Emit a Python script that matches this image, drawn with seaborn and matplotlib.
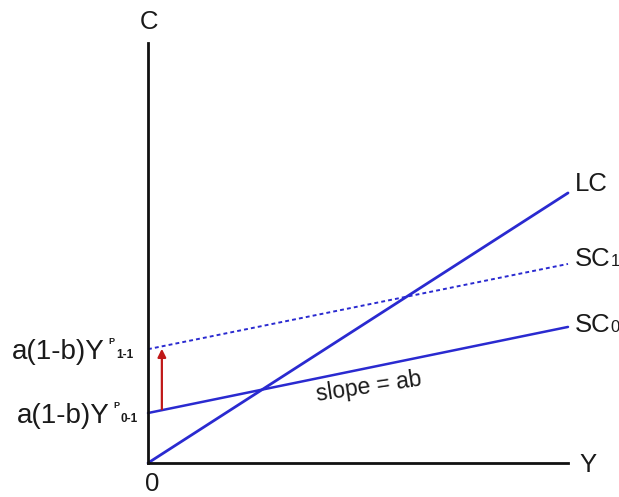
import matplotlib
matplotlib.use("Agg")
import matplotlib.pyplot as plt
import seaborn as sns
import pandas as pd

# ---- data ----
income = [0, 10]            # Y
lc = [0, 6.43]              # long-run consumption
sc1 = [2.71, 4.74]          # short-run consumption (period 1)
sc0 = [1.19, 3.24]          # short-run consumption (period 0)
arrow_x = 0.33
arrow_from = 1.28
arrow_to = 2.72
line_labels = ["LC", "SC", "SC"]
line_subs = ["", "1", "0"]
intercept_labels = ["a(1-b)Y", "a(1-b)Y"]
intercept_subs = ["1-1", "0-1"]
slope_text = "slope = ab"

sns.set_theme(style="white")
plt.rcParams["font.family"] = ["Liberation Sans", "DejaVu Sans"]

fig = plt.figure(figsize=(6.19, 4.97), dpi=100)
ax = fig.add_axes([148 / 619, 34 / 497, 420 / 619, 420 / 497])
ax.set_xlim(0, 10)
ax.set_ylim(0, 10)
ax.patch.set_alpha(0)

blue = "#2a2ad0"
df = pd.DataFrame({"Y": income, "LC": lc, "SC1": sc1, "SC0": sc0})
sns.lineplot(data=df, x="Y", y="LC", ax=ax, color=blue, lw=2.0, clip_on=False)
sns.lineplot(data=df, x="Y", y="SC1", ax=ax, color=blue, lw=1.4,
             linestyle=(0, (2.0, 1.6)), clip_on=False)
sns.lineplot(data=df, x="Y", y="SC0", ax=ax, color=blue, lw=1.8, clip_on=False)

ax.annotate("", xy=(arrow_x, arrow_to), xytext=(arrow_x, arrow_from),
            arrowprops=dict(arrowstyle="-|>", color="#c01818", lw=1.6,
                            mutation_scale=12, shrinkA=0, shrinkB=0))

for s in ["top", "right"]:
    ax.spines[s].set_visible(False)
for s in ["left", "bottom"]:
    ax.spines[s].set_linewidth(2)
    ax.spines[s].set_color("#111111")
ax.set_xticks([])
ax.set_yticks([])
ax.set_xlabel("")
ax.set_ylabel("")

tc = "#1a1a1a"
fs = 18.5
ax.text(0.02, 10.5, "C", fontsize=fs, ha="center", va="center", color=tc, clip_on=False)
ax.text(10.48, -0.05, "Y", fontsize=fs, ha="center", va="center", color=tc, clip_on=False)
ax.text(0.1, -0.5, "0", fontsize=fs, ha="center", va="center", color=tc, clip_on=False)

ends = [lc[1], sc1[1], sc0[1]]
offs = [0.22, 0.12, 0.05]
for lab, sub, yv, o in zip(line_labels, line_subs, ends, offs):
    t = ax.text(10.17, yv + o, lab, fontsize=fs, ha="left", va="center", color=tc, clip_on=False)
    if sub:
        ax.annotate(sub, xy=(1.0, 0.0), xycoords=t, fontsize=12, ha="left",
                    va="bottom", color=tc, xytext=(0, 1), textcoords="offset points")

starts = [sc1[0], sc0[0]]
lab_x = [-3.24, -3.12]
for lab, sub, yv, lx in zip(intercept_labels, intercept_subs, starts, lab_x):
    t = ax.text(lx, yv - 0.07, lab, fontsize=20, ha="left", va="center", color=tc, clip_on=False)
    ax.annotate("P", xy=(1.0, 1.0), xycoords=t, fontsize=6.5, ha="left", va="top",
                color=tc, xytext=(2.5, 1.5), textcoords="offset points", weight="bold")
    ax.annotate(sub, xy=(1.0, 0.0), xycoords=t, fontsize=8.5, ha="left", va="bottom",
                color=tc, xytext=(8, 3), textcoords="offset points", weight="bold")

ax.text(5.25, 1.82, slope_text, fontsize=16.5, rotation=8.5, ha="center", va="center",
        color=tc, rotation_mode="anchor")

fig.savefig("out.png", dpi=100)
